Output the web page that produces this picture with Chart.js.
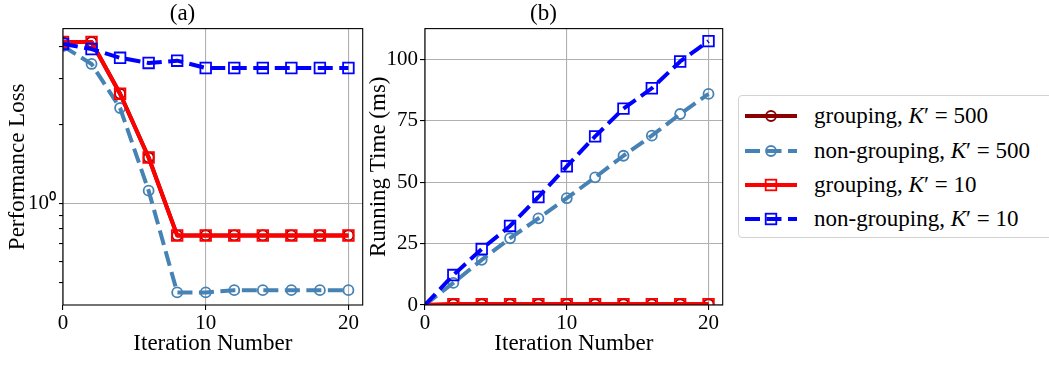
<!DOCTYPE html>
<html>
<head>
<meta charset="utf-8">
<title>Performance loss and running time</title>
<script src="https://cdn.jsdelivr.net/npm/chart.js@4/dist/chart.umd.min.js"></script>
<style>
    body { margin: 0; width: 1049px; height: 367px; overflow: hidden; background: #fff; font-family: 'Liberation Serif', serif; }
    .plot { position: absolute; top: 0; width: 372px; height: 367px; }
    #plotA { left: 0; }
    #plotB { left: 360px; }
    #legend { position: absolute; left: 738px; top: 95px; width: 330px; height: 143px; border: 1px solid #d3d3d3; border-radius: 4px; box-sizing: border-box; background: #fff; }
    .row { position: absolute; left: 0; height: 34px; display: flex; align-items: center; font-size: 23px; color: #000; white-space: nowrap; }
    .row svg { margin-left: 6px; margin-right: 17px; }
</style>
</head>
<body>
<div class="plot" id="plotA"><canvas id="chartA"></canvas></div>
<div class="plot" id="plotB"><canvas id="chartB"></canvas></div>
<div id="legend"></div>

<script>
// x values shared by both panels
const iterations = [0, 2, 4, 6, 8, 10, 12, 14, 16, 18, 20];
const xTicks = [0, 10, 20];

// (a) performance loss, log scale
const lossGrouping500 = [4.15, 4.15, 2.63, 1.5, 0.755, 0.755, 0.755, 0.755, 0.755, 0.755, 0.755];
const lossNonGrouping500 = [4.0, 3.42, 2.32, 1.12, 0.457, 0.457, 0.466, 0.466, 0.466, 0.466, 0.466];
const lossGrouping10 = [4.15, 4.15, 2.63, 1.5, 0.755, 0.755, 0.755, 0.755, 0.755, 0.755, 0.755];
const lossNonGrouping10 = [4.08, 3.9, 3.61, 3.45, 3.52, 3.3, 3.3, 3.3, 3.3, 3.3, 3.3];
const lossTicks = [0.5, 0.6, 0.7, 0.8, 0.9, 1, 2, 3, 4];

// (b) running time in ms
const timeGrouping500 = [0, 0.3, 0.3, 0.3, 0.3, 0.3, 0.3, 0.3, 0.3, 0.3, 0.3];
const timeNonGrouping500 = [0, 9, 18.4, 27.2, 35.3, 43.5, 52, 60.8, 69, 77.8, 86];
const timeGrouping10 = [0, 0.3, 0.3, 0.3, 0.3, 0.3, 0.3, 0.3, 0.3, 0.3, 0.3];
const timeNonGrouping10 = [0, 12.2, 22.8, 32.2, 44, 56.5, 68.7, 80, 88.3, 99.2, 107.5];
const timeTicks = [0, 25, 50, 75, 100];

const seriesNames = ['grouping, ', 'non-grouping, ', 'grouping, ', 'non-grouping, '];
const seriesK = ['500', '500', '10', '10'];

const styles = [
    { color: '#8b0000', dash: [], shape: 'circle' },
    { color: '#4682b4', dash: [15, 6.5], shape: 'circle' },
    { color: '#ff0000', dash: [], shape: 'rect' },
    { color: '#0000ff', dash: [15, 6.5], shape: 'rect' }
];

const FONT = "'Liberation Serif', serif";

// black frame round the plot area, like matplotlib spines
const frame = {
    id: 'frame',
    afterDatasetsDraw(chart) {
        const a = chart.chartArea;
        const ctx = chart.ctx;
        ctx.save();
        ctx.strokeStyle = '#000';
        ctx.lineWidth = 1.1;
        ctx.strokeRect(a.left, a.top, a.right - a.left, a.bottom - a.top);
        ctx.restore();
    }
};

function makeDatasets(seriesValues, hideFirst) {
    return seriesValues.map((vals, i) => {
        const s = styles[i];
        const r = s.shape === 'rect' ? 7.5 : 5;
        return {
            label: seriesNames[i] + "K' = " + seriesK[i],
            data: iterations.map((x, j) => ({ x: x, y: vals[j] })),
            borderColor: s.color,
            borderWidth: 4,
            borderDash: s.dash,
            borderJoinStyle: 'round',
            pointStyle: s.shape,
            pointRadius: ctx => (hideFirst && ctx.dataIndex === 0) ? 0 : r,
            pointBorderWidth: 1.8,
            pointBorderColor: s.color,
            pointBackgroundColor: 'rgba(0,0,0,0)',
            tension: 0,
            clip: 0,
            order: 4 - i
        };
    });
}

function xScale() {
    return {
        type: 'linear',
        min: 0,
        max: 21,
        afterBuildTicks: scale => { scale.ticks = xTicks.map(v => ({ value: v })); },
        afterFit: scale => { scale.height = 62; },
        grid: { color: '#b0b0b0', lineWidth: 1.1, tickColor: '#000', tickLength: 5 },
        border: { display: false },
        ticks: { autoSkip: false, maxRotation: 0, padding: 1, color: '#000', font: { family: FONT, size: 21 } },
        title: { display: true, text: 'Iteration Number', color: '#000', font: { family: FONT, size: 23 }, padding: { top: 0, bottom: 9 } }
    };
}

function baseOptions(title, yScale) {
    return {
        responsive: true,
        maintainAspectRatio: false,
        animation: false,
        devicePixelRatio: 1,
        layout: { padding: { left: 0, right: 7, top: 0, bottom: 0 } },
        plugins: {
            legend: { display: false },
            tooltip: { enabled: false },
            title: { display: true, text: title, color: '#000', font: { family: FONT, size: 23, weight: 'normal' }, padding: { top: 0, bottom: 1 } }
        },
        scales: { x: xScale(), y: yScale }
    };
}

// (a)
new Chart(document.getElementById('chartA'), {
    type: 'line',
    data: { datasets: makeDatasets([lossGrouping500, lossNonGrouping500, lossGrouping10, lossNonGrouping10], false) },
    options: baseOptions('(a)', {
        type: 'logarithmic',
        min: 0.409,
        max: 4.67,
        afterBuildTicks: scale => { scale.ticks = lossTicks.map(v => ({ value: v })); },
        afterFit: scale => { scale.width = 63; },
        grid: {
            color: ctx => (ctx.tick && ctx.tick.value === 1) ? '#b0b0b0' : 'rgba(0,0,0,0)',
            lineWidth: 1.1,
            tickColor: '#000',
            tickLength: 4
        },
        border: { display: false },
        ticks: {
            autoSkip: false,
            padding: 3,
            color: '#000',
            font: { family: FONT, size: 21 },
            callback: v => v === 1 ? '10\u2070' : ''
        },
        title: { display: true, text: 'Performance Loss', color: '#000', font: { family: FONT, size: 23 }, padding: { top: 4, bottom: 0 } }
    }),
    plugins: [frame]
});

// (b)
const optsB = baseOptions('(b)', {
    type: 'linear',
    min: 0,
    max: 112.6,
    afterBuildTicks: scale => { scale.ticks = timeTicks.map(v => ({ value: v })); },
    afterFit: scale => { scale.width = 65; },
    grid: { color: '#b0b0b0', lineWidth: 1.1, tickColor: '#000', tickLength: 5 },
    border: { display: false },
    ticks: { autoSkip: false, padding: 2, color: '#000', font: { family: FONT, size: 21 } },
    title: { display: true, text: 'Running Time (ms)', color: '#000', font: { family: FONT, size: 23 }, padding: { top: 5, bottom: 0 } }
});
optsB.layout.padding.right = 5;

new Chart(document.getElementById('chartB'), {
    type: 'line',
    data: { datasets: makeDatasets([timeGrouping500, timeNonGrouping500, timeGrouping10, timeNonGrouping10], true) },
    options: optsB,
    plugins: [frame]
});

// legend on the right, html text with small svg line samples
const legendEl = document.getElementById('legend');
const rowCenters = [20, 55, 89, 123];
styles.forEach((s, i) => {
    const row = document.createElement('div');
    row.className = 'row';
    row.style.top = (rowCenters[i] - 17) + 'px';
    const dash = s.dash.length ? ` stroke-dasharray="${s.dash.join(',')}"` : '';
    const marker = s.shape === 'circle'
        ? `<circle cx="26" cy="10" r="5" fill="none" stroke="${s.color}" stroke-width="1.8"/>`
        : `<rect x="20.7" y="4.7" width="10.6" height="10.6" fill="none" stroke="${s.color}" stroke-width="1.8"/>`;
    row.innerHTML =
        `<svg width="52" height="20"><line x1="0" y1="10" x2="52" y2="10" stroke="${s.color}" stroke-width="4"${dash}/>${marker}</svg>` +
        `<span>${seriesNames[i]}<i>K</i>\u2032 = ${seriesK[i]}</span>`;
    legendEl.appendChild(row);
});
</script>
</body>
</html>
